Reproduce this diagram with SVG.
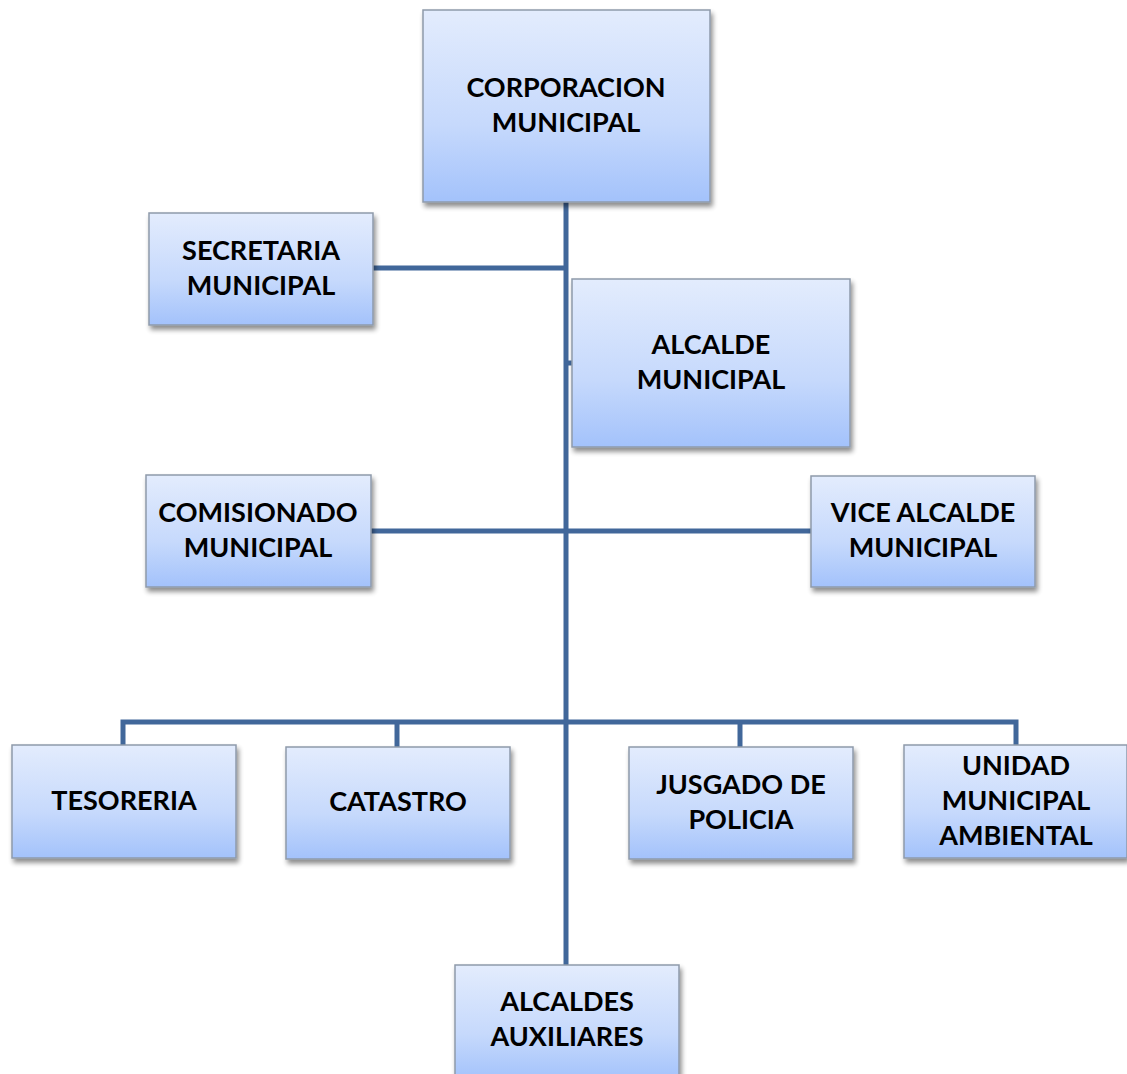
<svg xmlns="http://www.w3.org/2000/svg" width="1127" height="1074" viewBox="0 0 1127 1074">
<defs>
<linearGradient id="g" x1="0" y1="0" x2="0" y2="1">
<stop offset="0" stop-color="#E3ECFD"/>
<stop offset="0.6" stop-color="#C6D9FC"/>
<stop offset="1" stop-color="#A3C2FB"/>
</linearGradient>
<filter id="sh" x="-10%" y="-10%" width="125%" height="130%">
<feGaussianBlur in="SourceAlpha" stdDeviation="2.5"/>
<feOffset dx="2" dy="4" result="b"/>
<feComponentTransfer><feFuncA type="linear" slope="0.45"/></feComponentTransfer>
<feMerge><feMergeNode/><feMergeNode in="SourceGraphic"/></feMerge>
</filter>
</defs>
<style>
.box{fill:url(#g);stroke:#8E9AAB;stroke-width:1.5;filter:url(#sh)}
.t{font-family:Lato,"Liberation Sans",sans-serif;font-weight:bold;font-size:27px;fill:#000;text-anchor:middle}
.c{stroke:#41679A;stroke-width:5;fill:none}
</style>
<rect width="1127" height="1074" fill="#fff"/>
<g id="connectors">
<path class="c" d="M566 202 V965"/>
<path class="c" d="M373 268 H566"/>
<path class="c" d="M566 363 H572"/>
<path class="c" d="M371 531 H811"/>
<path class="c" d="M123 745 V722 H1016 V745"/>
<path class="c" d="M397 722 V747"/>
<path class="c" d="M740 722 V747"/>
</g>
<g id="corporacion"><rect class="box" x="423" y="10" width="287" height="192"/><text class="t" x="566" y="97">CORPORACION</text><text class="t" x="566" y="132">MUNICIPAL</text></g>
<g id="secretaria"><rect class="box" x="149" y="213" width="224" height="112"/><text class="t" x="261" y="260">SECRETARIA</text><text class="t" x="261" y="295">MUNICIPAL</text></g>
<g id="alcalde"><rect class="box" x="572" y="279" width="278" height="168"/><text class="t" x="711" y="354">ALCALDE</text><text class="t" x="711" y="389">MUNICIPAL</text></g>
<g id="comisionado"><rect class="box" x="146" y="475" width="225" height="112"/><text class="t" x="258" y="522">COMISIONADO</text><text class="t" x="258" y="557">MUNICIPAL</text></g>
<g id="vicealcalde"><rect class="box" x="811" y="476" width="224" height="111"/><text class="t" x="923" y="522">VICE ALCALDE</text><text class="t" x="923" y="557">MUNICIPAL</text></g>
<g id="tesoreria"><rect class="box" x="12" y="745" width="224" height="113"/><text class="t" x="124" y="810">TESORERIA</text></g>
<g id="catastro"><rect class="box" x="286" y="747" width="224" height="112"/><text class="t" x="398" y="811">CATASTRO</text></g>
<g id="jusgado"><rect class="box" x="629" y="747" width="224" height="112"/><text class="t" x="741" y="794">JUSGADO DE</text><text class="t" x="741" y="829">POLICIA</text></g>
<g id="unidad"><rect class="box" x="904" y="745" width="223" height="113"/><text class="t" x="1016" y="775">UNIDAD</text><text class="t" x="1016" y="810">MUNICIPAL</text><text class="t" x="1016" y="845">AMBIENTAL</text></g>
<g id="alcaldes"><rect class="box" x="455" y="965" width="224" height="115"/><text class="t" x="567" y="1011">ALCALDES</text><text class="t" x="567" y="1046">AUXILIARES</text></g>
</svg>
